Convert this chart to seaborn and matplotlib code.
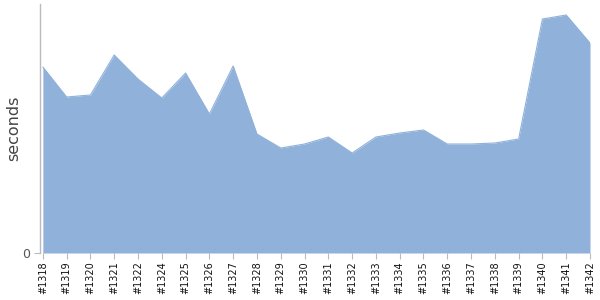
import matplotlib
matplotlib.use("Agg")
import matplotlib.pyplot as plt
import seaborn as sns
import pandas as pd

builds = ["#1318", "#1319", "#1320", "#1321", "#1322", "#1324", "#1325", "#1326",
          "#1327", "#1328", "#1329", "#1330", "#1331", "#1332", "#1333", "#1334",
          "#1335", "#1336", "#1337", "#1338", "#1339", "#1340", "#1341", "#1342"]
seconds = [186, 156, 158, 198, 174, 155, 180, 139,
           187, 119, 105, 109, 116, 100, 116, 120,
           123, 109, 109, 110, 114, 234, 238, 210]

df = pd.DataFrame({"build": builds, "seconds": seconds})

sns.set_style("white")
fig = plt.figure(figsize=(6, 3), dpi=100)
ax = fig.add_axes([40 / 600, 47 / 300, 550 / 600, 249 / 300])

pos = list(range(len(df)))
ax.fill_between(pos, 0, df["seconds"], color="#8FB1DA", linewidth=0)
sns.lineplot(x=pos, y=df["seconds"], ax=ax, color="#8FB1DA", linewidth=0.8)

ax.set_xlim(-0.12, len(df) - 1)
ax.set_ylim(0, 249)
ax.set_xticks(pos)
ax.set_xticklabels(df["build"], rotation=90, fontsize=7, color="#111111")
ax.set_yticks([0])
ax.set_yticklabels(["0"], fontsize=9, color="#555555")
ax.set_ylabel("seconds", fontsize=11.5, color="#444444")
ax.yaxis.set_label_coords(-0.035, 0.5)
ax.set_xlabel("")

for s in ["top", "right", "bottom"]:
    ax.spines[s].set_visible(False)
ax.spines["left"].set_color("#BBBBBB")
ax.spines["left"].set_linewidth(1)
ax.tick_params(axis="x", length=4, width=0.8, color="#BBBBBB", pad=2, bottom=True, direction="out")
ax.tick_params(axis="y", length=4, width=0.8, color="#BBBBBB", pad=3, left=True)

fig.savefig("out.png", dpi=100)
